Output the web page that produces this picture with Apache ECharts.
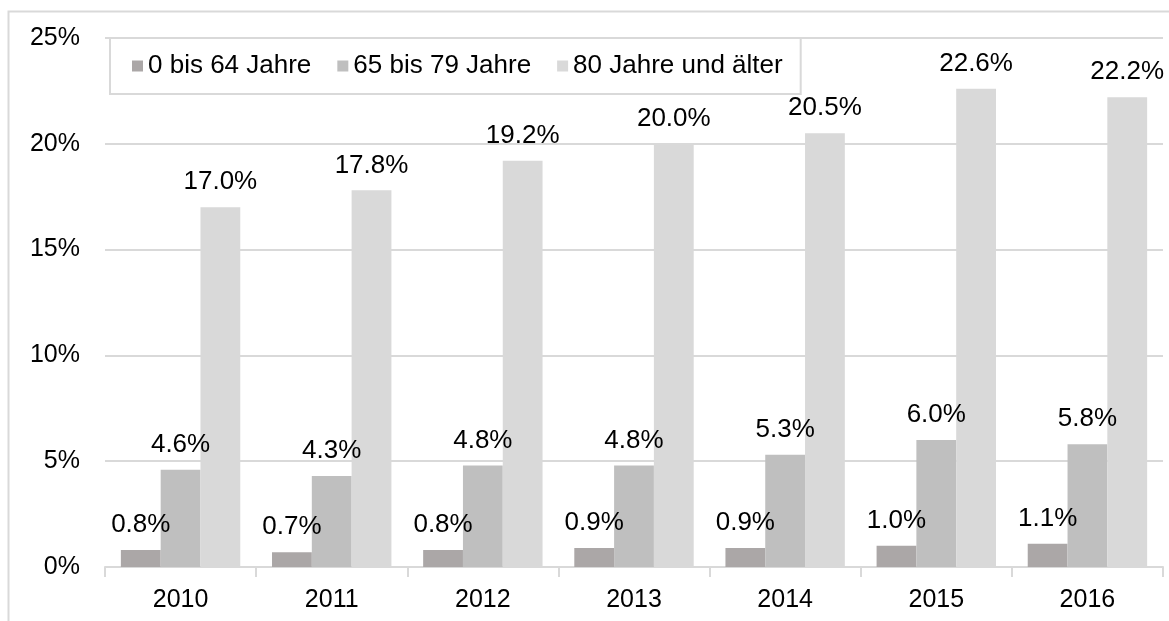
<!DOCTYPE html>
<html>
<head>
<meta charset="utf-8">
<script src="https://cdn.jsdelivr.net/npm/echarts@6/dist/echarts.min.js"></script>
<style>
  html, body { margin: 0; padding: 0; background: #fff; }
  #chart { width: 1169px; height: 621px; }
</style>
</head>
<body>
<div id="chart"></div>
<script>
  // Anteil je Altersgruppe, in Prozent
  var years = ['2010', '2011', '2012', '2013', '2014', '2015', '2016']
  var seriesNames = ['0 bis 64 Jahre', '65 bis 79 Jahre', '80 Jahre und älter']
  var bis64 = [0.8, 0.7, 0.8, 0.9, 0.9, 1.0, 1.1]
  var bis79 = [4.6, 4.3, 4.8, 4.8, 5.3, 6.0, 5.8]
  var ab80 = [17.0, 17.8, 19.2, 20.0, 20.5, 22.6, 22.2]
  var colors = ['#aba7a7', '#bfbfbf', '#d9d9d9']

  var font = 'Liberation Sans, Arial, sans-serif'
  var chart = echarts.init(document.getElementById('chart'))

  function makeSeries (name, data, color) {
    return {
      name: name,
      type: 'bar',
      data: data,
      barGap: '0%',
      barCategoryGap: '21%',
      itemStyle: { color: color },
      label: {
        show: true,
        position: 'top',
        distance: 12,
        fontFamily: font,
        fontSize: 26,
        color: '#000',
        formatter: function (p) { return p.value.toFixed(1) + '%' }
      }
    }
  }

  var option = {
    animation: false,
    backgroundColor: '#fff',
    graphic: [{
      type: 'rect',
      shape: { x: 8.5, y: 11.5, width: 1175, height: 640 },
      style: { fill: 'none', stroke: '#d9d9d9', lineWidth: 2 },
      z: -1
    }],
    grid: { left: 105, right: 6, top: 38, bottom: 54 },
    legend: {
      left: 110,
      top: 38,
      itemWidth: 11,
      itemHeight: 11,
      itemGap: 26,
      padding: [15, 18, 15, 22],
      borderColor: '#d9d9d9',
      borderWidth: 2,
      backgroundColor: '#fff',
      icon: 'rect',
      textStyle: { fontFamily: font, fontSize: 26, color: '#000' },
      data: seriesNames
    },
    xAxis: {
      type: 'category',
      data: years,
      axisLine: { lineStyle: { color: '#d9d9d9', width: 2 } },
      axisTick: { show: true, length: 10, lineStyle: { color: '#d9d9d9', width: 2 } },
      axisLabel: { fontFamily: font, fontSize: 25, color: '#000', margin: 21 }
    },
    yAxis: {
      type: 'value',
      min: 0,
      max: 25,
      interval: 5,
      axisLine: { show: false },
      axisTick: { show: false },
      splitLine: { lineStyle: { color: '#d9d9d9', width: 2 } },
      axisLabel: {
        fontFamily: font,
        fontSize: 25,
        color: '#000',
        margin: 25,
        formatter: '{value}%'
      }
    },
    series: [
      makeSeries(seriesNames[0], bis64, colors[0]),
      makeSeries(seriesNames[1], bis79, colors[1]),
      makeSeries(seriesNames[2], ab80, colors[2])
    ]
  }
  chart.setOption(option)
</script>
</body>
</html>
